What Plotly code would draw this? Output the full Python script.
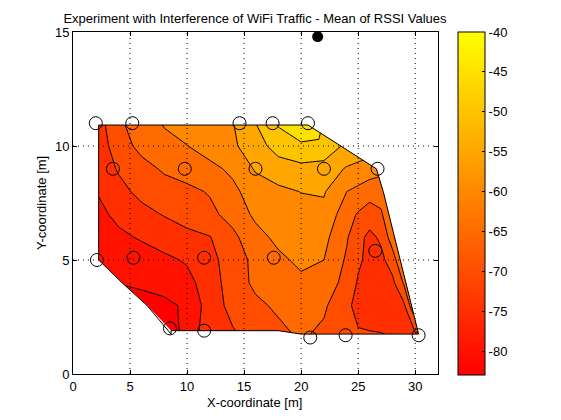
import plotly.graph_objects as go
import numpy as np

W, H = 561, 420
title = "Experiment with Interference of WiFi Traffic - Mean of RSSI Values"
levels = [-80, -75, -70, -65, -60, -55, -50, -45]
cb_ticks = [-40, -45, -50, -55, -60, -65, -70, -75, -80]
cmin, cmax = -83, -40

sensor_x = [2, 5.2, 14.6, 17.5, 20.6, 3.5, 9.8, 16, 22, 26.7, 2.1, 5.3, 11.5, 17.6, 26.5, 8.5, 11.5, 20.8, 23.9, 30.3]
sensor_y = [11, 11, 11, 11, 11, 9, 9, 9, 9, 9, 5, 5.1, 5.1, 5.1, 5.4, 2, 1.9, 1.6, 1.7, 1.7]
ap_x = [21.45]
ap_y = [14.8]

col_x = [2.25, 4, 6, 8, 10, 12, 14, 16, 18, 20, 22, 24, 25, 26, 27, 28, 29, 30, 30.3]
row_y = [10.92, 10, 9, 8, 7, 6, 5, 4, 3, 1.75]
bottom_y = [1.9, 1.9, 1.9, 1.9, 1.9, 1.9, 1.9, 1.9, 1.9, 1.75, 1.75, 1.75, 1.75, 1.75, 1.75, 1.75, 1.75, 1.75, 1.75]
row_left = [2.25, 2.25, 2.25, 2.25, 2.25, 2.25, 2.25, 4.3, 6.5, 8.6]
row_right = [20.6, 23.5, 26.6, 27.2, 27.7, 28.2, 28.7, 29.2, 29.7, 30.3]
rssi = [
 [-72, -66, -62.5, -59.8, -58.2, -56.8, -55.3, -50.3, -44.7, -42.5, -42, -42, -42, -42, -42, -42, -42, -42, -42],
 [-72.5, -67.5, -63.5, -61.2, -60.1, -57.8, -55.8, -52.3, -47.8, -45.6, -46.4, -50, -50, -50, -50, -50, -50, -50, -50],
 [-73, -69.5, -66.8, -64.3, -62.8, -61.3, -59, -54.5, -52.5, -51.5, -52, -55.5, -56.5, -57.5, -58, -58, -58, -58, -58],
 [-74.7, -71.5, -68.7, -67.2, -66.2, -64.6, -61.2, -57.5, -56, -54.9, -54.6, -60, -61.3, -62.8, -63.5, -63.5, -63.5, -63.5, -63.5],
 [-76, -74, -71.5, -69.7, -68, -66.2, -63.2, -59, -57.5, -56.5, -56.2, -63, -65.5, -67.5, -65.5, -63, -63, -63, -63],
 [-77, -75.8, -74.6, -72.8, -71.3, -70.2, -66.2, -61.7, -58.8, -58.2, -58.6, -64.5, -68.5, -71.2, -69.2, -62.4, -61.5, -61.5, -61.5],
 [-78, -77.5, -76.8, -76, -74.5, -71.5, -67.5, -63.7, -61, -59, -60, -65.7, -69.2, -71.3, -71.3, -67.5, -62, -62, -62],
 [-79.7, -79.7, -79, -78.4, -76.5, -72.5, -67.5, -64, -62.2, -61, -62, -66.8, -70.5, -71.5, -71.5, -71.3, -64.5, -62, -62],
 [-82, -82, -82, -81, -79.3, -72.5, -68.5, -66, -64.2, -63, -64.2, -69.3, -71, -71.5, -71.7, -71.7, -71, -63, -63],
 [-82, -82, -82, -82, -78, -72.3, -70.3, -68, -65.9, -64.3, -66, -69.2, -69.7, -69.8, -69.9, -70.2, -70.4, -70.5, -70.5],
]

def autumn(v):
    g = round(255 * min(max((v - cmin) / (cmax - cmin), 0), 1))
    return f"rgb(255,{g},0)"

bands = [levels[0] - 5] + levels
band_scale = [[i / (len(bands) - 1), autumn(b)] for i, b in enumerate(bands)]

mesh_x = [[float(v) for v in np.clip(col_x, l, r)] for l, r in zip(row_left, row_right)]
mesh_y = [[y] * len(col_x) for y in row_y[:-1]] + [list(bottom_y)]
a = list(range(len(col_x)))
b = list(range(len(row_y)))

# the page body keeps its 8 px margin, so the canvas begins at (8, 8)
PAD = 8
L, R, T, B = 73, 438, 32, 374
FONT = "Liberation Sans"
FS = 13

fig = go.Figure()
hidden = dict(showgrid=False, showline=False, showticklabels="none", startline=False, endline=False,
              minorgridcount=0, smoothing=0)
fig.add_trace(go.Carpet(a=a, b=b, x=mesh_x, y=mesh_y, carpet="c", aaxis=hidden, baxis=hidden))
fig.add_trace(go.Contourcarpet(a=a, b=b, z=rssi, carpet="c", autocontour=False,
                               contours=dict(start=levels[0], end=levels[-1], size=5, coloring="fill", showlines=True),
                               line=dict(color="black", width=1, smoothing=0), colorscale=band_scale, showscale=False))
out_x = list(row_right) + mesh_x[-1][::-1] + list(row_left[::-1]) + [row_right[0]]
out_y = list(row_y) + mesh_y[-1][::-1] + list(row_y[::-1]) + [row_y[0]]
fig.add_trace(go.Scatter(x=out_x, y=out_y, mode="lines", line=dict(color="black", width=1), showlegend=False, hoverinfo="skip"))

fig.add_trace(go.Scatter(x=[None, None], y=[None, None], mode="markers", showlegend=False,
    marker=dict(color=[cmin, cmax], cmin=cmin, cmax=cmax,
                colorscale=[[0, "#ff0000"], [1, "#ffff00"]], showscale=True,
                colorbar=dict(x=(458 - L) / (R - L), xanchor="left", xpad=0, y=1, yanchor="top", ypad=0,
                              thickness=27, thicknessmode="pixels", len=343, lenmode="pixels",
                              outlinecolor="black", outlinewidth=1,
                              tickmode="array", tickvals=cb_ticks, ticktext=[str(t) for t in cb_ticks],
                              ticks="inside", ticklen=3, tickcolor="black", tickwidth=1,
                              tickfont=dict(family=FONT, size=FS, color="black")))))

fig.add_trace(go.Scatter(x=sensor_x, y=sensor_y, mode="markers", showlegend=False, cliponaxis=False,
    marker=dict(symbol="circle-open", size=13, color="black", line=dict(width=1, color="black"))))
fig.add_trace(go.Scatter(x=ap_x, y=ap_y, mode="markers", showlegend=False, cliponaxis=False,
    marker=dict(symbol="circle", size=11, color="black")))

xt = [0, 5, 10, 15, 20, 25, 30]
yt = [0, 5, 10, 15]
grid = dict(color="black", width=1, dash="1px,4px")
for v in xt[1:]:
    fig.add_shape(type="line", xref="x", yref="y", x0=v, x1=v, y0=0, y1=15, line=grid, layer="above")
for v in yt[1:-1]:
    fig.add_shape(type="line", xref="x", yref="y", x0=0, x1=32, y0=v, y1=v, line=grid, layer="above")
cb_px = 343 / (cmax - cmin)
for v in cb_ticks[1:]:
    fig.add_shape(type="line", xref="paper", yref="paper",
                  x0=(458 - L) / (R - L), x1=(461 - L) / (R - L),
                  y0=1 - (cmax - v) * cb_px / (B - T), y1=1 - (cmax - v) * cb_px / (B - T),
                  line=dict(color="black", width=1), layer="above")

axis = dict(showgrid=False, zeroline=False, showline=True, linecolor="black", linewidth=1, mirror="ticks",
            ticks="inside", ticklen=4, tickcolor="black", automargin=False,
            tickfont=dict(family=FONT, size=FS, color="black"))
cw, ch = W - 2 * PAD, H - 2 * PAD
fig.update_layout(
    width=cw, height=ch, autosize=False, paper_bgcolor="white", plot_bgcolor="white", showlegend=False,
    margin=dict(l=L - PAD, r=cw - (R - PAD), t=T - PAD, b=ch - (B - PAD), pad=0),
    font=dict(family=FONT, size=FS, color="black"),
    title=dict(text=title, x=(255 - PAD) / cw, xanchor="center", y=1 - (18 - PAD) / ch, yanchor="middle",
               font=dict(size=FS, color="black")),
    xaxis=dict(axis, range=[0, 32], tickmode="array", tickvals=xt),
    yaxis=dict(axis, range=[0, 15], tickmode="array", tickvals=yt),
    annotations=[
        dict(text="X-coordinate [m]", xref="x", yref="paper", x=15.9, y=-28 / (B - T), xanchor="center", yanchor="middle", showarrow=False,
             font=dict(family=FONT, size=FS, color="black")),
        dict(text="Y-coordinate [m]", xref="paper", yref="y", x=-32 / (R - L), y=7.5, xanchor="center", yanchor="middle", textangle=-90, showarrow=False,
             font=dict(family=FONT, size=FS, color="black")),
    ],
)
fig.write_html("out.html", config=dict(displayModeBar=False))
